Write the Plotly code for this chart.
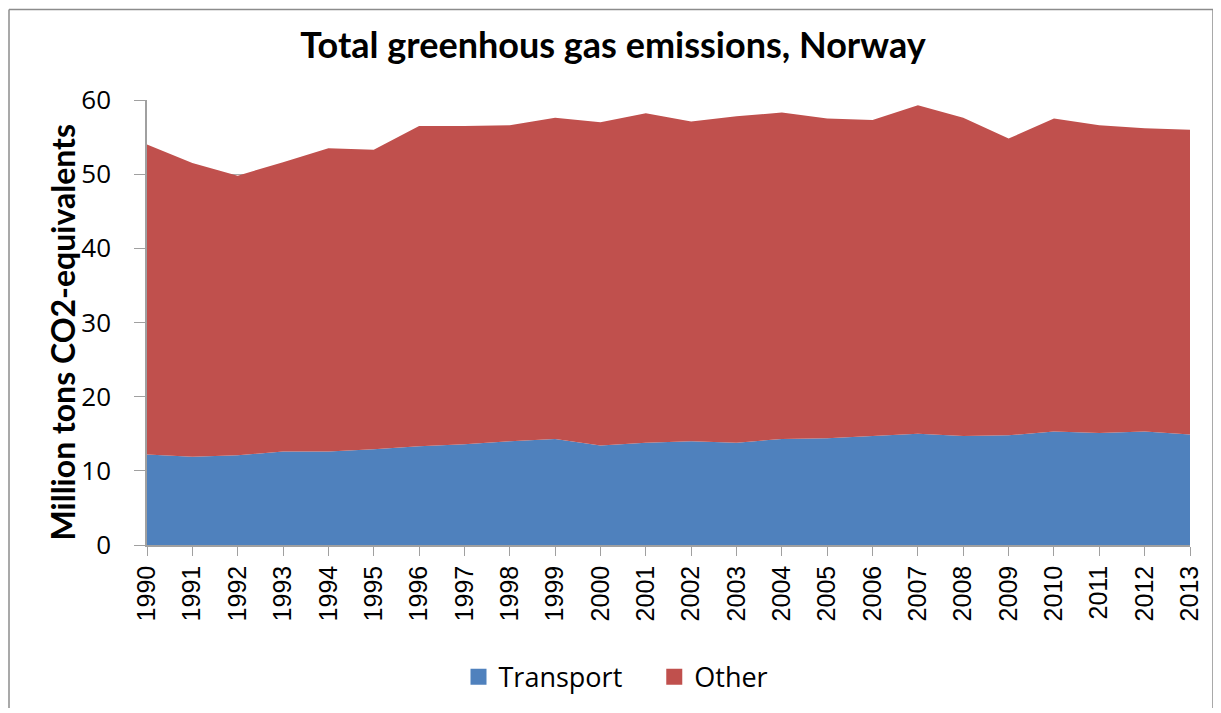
import plotly.graph_objects as go

years = [str(y) for y in range(1990, 2014)]
transport = [12.2, 11.9, 12.1, 12.6, 12.6, 12.9, 13.3, 13.6, 14.0, 14.3, 13.4, 13.8,
             14.0, 13.8, 14.3, 14.4, 14.7, 15.0, 14.7, 14.8, 15.3, 15.1, 15.3, 14.9]
total = [54.0, 51.5, 49.8, 51.6, 53.5, 53.3, 56.5, 56.5, 56.6, 57.6, 57.0, 58.2,
         57.1, 57.8, 58.3, 57.5, 57.3, 59.3, 57.6, 54.8, 57.5, 56.6, 56.2, 56.0]
other = [round(t - tr, 2) for t, tr in zip(total, transport)]
series_names = ["Transport", "Other"]
series_colors = ["#4F81BD", "#C0504D"]

OFF = 8  # page body margin
W, H = 1221 - OFF, 713 - OFF
L, R, T, B = 147 - OFF, 1190 - OFF, 100 - OFF, 548 - OFF

fig = go.Figure()
for i, (name, vals, col) in enumerate(zip(series_names, [transport, other], series_colors)):
    fig.add_trace(go.Scatter(x=years, y=vals, name=name, stackgroup="one",
                             mode="none", fillcolor=col, showlegend=False))
    label = name + ("\u2003" if i == 0 else "")
    fig.add_trace(go.Scatter(x=[None], y=[None], name=label, mode="markers",
                             marker=dict(symbol="square", size=19, color=col),
                             showlegend=True))

def px(x):
    return (x - OFF - L) / (R - L)

def py(y):
    return (B - (y - OFF)) / (B - T)

border = "#8C8C8C"
fig.update_layout(
    width=W, height=H,
    margin=dict(l=L, r=W - R, t=T, b=H - B),
    paper_bgcolor="white", plot_bgcolor="white",
    title=dict(text="<b>Total greenhous gas emissions, Norway</b>", x=px(613), xref="paper",
               xanchor="center", y=1 - (45 - OFF) / H, yanchor="middle",
               font=dict(family="Lato", size=36, color="black")),
    font=dict(family="Open Sans", color="black"),
    showlegend=True,
    legend=dict(orientation="h", x=px(616), xanchor="center",
                y=py(681), yanchor="middle", font=dict(size=27, family="Open Sans"),
                traceorder="normal", itemwidth=30),
    xaxis=dict(type="category", range=[0, 23], showgrid=False, showline=True,
               linecolor="#A0A0A0", linewidth=1.5, ticks="outside", ticklen=9,
               tickcolor="#A0A0A0", tickangle=-90,
               tickfont=dict(family="Liberation Sans", size=25, color="black")),
    yaxis=dict(range=[0, 60], dtick=10, showgrid=True, gridcolor="#A8A8A8", gridwidth=1,
               showline=True, linecolor="#A0A0A0", linewidth=1.5, ticks="outside",
               ticklen=11, tickcolor="#A0A0A0", zeroline=False, ticklabelstandoff=18,
               tickfont=dict(family="Open Sans", size=26, color="black")),
    annotations=[dict(text="<b>Million tons CO2-equivalents</b>", textangle=-90,
                      xref="paper", yref="paper", x=px(62), y=py(334),
                      xanchor="center", yanchor="middle", showarrow=False,
                      font=dict(family="Lato", size=32, color="black"))],
    shapes=[
        dict(type="line", xref="paper", yref="paper", x0=px(9), x1=px(9),
             y0=py(712), y1=py(9), line=dict(color=border, width=1.5), layer="below"),
        dict(type="line", xref="paper", yref="paper", x0=px(9), x1=px(1213),
             y0=py(9), y1=py(9), line=dict(color=border, width=1.5), layer="below"),
        dict(type="line", xref="paper", yref="paper", x0=px(1213), x1=px(1213),
             y0=py(712), y1=py(9), line=dict(color=border, width=1.5), layer="below"),
    ],
)

fig.write_html("out.html")
